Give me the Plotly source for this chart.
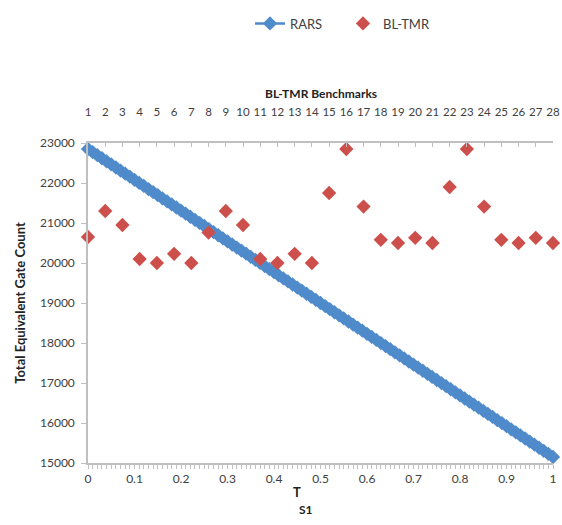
import plotly.graph_objects as go

# RARS series: T_S1 from 0 to 1 in steps of 0.01
ts1 = [round(i / 100, 2) for i in range(101)]
rars = [22850, 22773, 22696, 22619, 22542, 22465, 22388, 22311, 22234, 22157,
        22080, 22003, 21926, 21849, 21772, 21695, 21618, 21541, 21464, 21387,
        21310, 21233, 21156, 21079, 21002, 20925, 20848, 20771, 20694, 20617,
        20540, 20463, 20386, 20309, 20232, 20155, 20078, 20001, 19924, 19847,
        19770, 19693, 19616, 19539, 19462, 19385, 19308, 19231, 19154, 19077,
        19000, 18923, 18846, 18769, 18692, 18615, 18538, 18461, 18384, 18307,
        18230, 18153, 18076, 17999, 17922, 17845, 17768, 17691, 17614, 17537,
        17460, 17383, 17306, 17229, 17152, 17075, 16998, 16921, 16844, 16767,
        16690, 16613, 16536, 16459, 16382, 16305, 16228, 16151, 16074, 15997,
        15920, 15843, 15766, 15689, 15612, 15535, 15458, 15381, 15304, 15227,
        15150]

# BL-TMR benchmarks 1..28
bench = list(range(1, 29))
bltmr = [20650, 21300, 20950, 20100, 20000, 20230, 20000, 20760, 21300, 20950,
         20100, 20000, 20230, 20000, 21750, 22850, 21410, 20580, 20500, 20630,
         20500, 21900, 22850, 21410, 20580, 20500, 20630, 20500]

bottom_ticks = [0, 0.1, 0.2, 0.3, 0.4, 0.5, 0.6, 0.7, 0.8, 0.9, 1]
bottom_labels = ["0", "0.1", "0.2", "0.3", "0.4", "0.5", "0.6", "0.7", "0.8", "0.9", "1"]

BLUE = "#4F8BCB"
RED = "#CD4F4B"
FONT = "Lato"

L, R, T, B = 88, 9, 139, 62
W, H = 562, 525
PW, PH = W - L - R, H - T - B

def px_x(x):
    return (x - L) / PW

def px_y(y):
    return (H - B - y) / PH

fig = go.Figure()
fig.add_trace(go.Scatter(
    x=ts1, y=rars, name="RARS", mode="lines+markers",
    line=dict(color=BLUE, width=2.5),
    marker=dict(symbol="diamond", size=11, color=BLUE),
    cliponaxis=False, xaxis="x", yaxis="y"))
fig.add_trace(go.Scatter(
    x=bench, y=bltmr, name="BL-TMR", mode="markers",
    marker=dict(symbol="diamond", size=11, color=RED),
    cliponaxis=False, xaxis="x2", yaxis="y"))

axis_common = dict(showgrid=False, zeroline=False, showline=True, automargin=False,
                   linecolor="#BFBFBF", linewidth=1.5, tickcolor="#BFBFBF",
                   tickfont=dict(family=FONT, size=12, color="#404040"))

fig.update_layout(
    width=W, height=H,
    margin=dict(l=L, r=R, t=T, b=B),
    paper_bgcolor="white", plot_bgcolor="white",
    font=dict(family=FONT, color="#404040"),
    showlegend=True,
    legend=dict(orientation="h", x=px_x(250), y=px_y(18), xanchor="left", yanchor="middle",
                font=dict(family=FONT, size=13, color="#404040"),
                entrywidth=48, entrywidthmode="pixels", tracegroupgap=0),
    xaxis=dict(range=[0, 1], tickvals=bottom_ticks, ticktext=bottom_labels,
               ticks="outside", ticklen=4,
               minor=dict(dtick=0.01, ticks="outside", ticklen=4, tickcolor="#BFBFBF"),
               **axis_common),
    xaxis2=dict(range=[1, 28], overlaying="x", side="top", anchor="y",
                tickmode="linear", tick0=1, dtick=1, ticks="inside", ticklen=4,
                ticklabelstandoff=21,
                **{**axis_common, "tickfont": dict(family=FONT, size=11.5, color="#404040")}),
    yaxis=dict(range=[15000, 23000], tickmode="linear", tick0=15000, dtick=1000,
               tickformat="d", ticks="outside", ticklen=5, ticklabelstandoff=4,
               title=dict(text="<b>Total Equivalent Gate Count</b>", standoff=11,
                          font=dict(family=FONT, size=13, color="#222")),
               **axis_common),
    annotations=[
        dict(text="<b>BL-TMR Benchmarks</b>", xref="paper", yref="paper",
             x=0.5, y=px_y(89), showarrow=False, xanchor="center", yanchor="middle",
             font=dict(family=FONT, size=12, color="#222")),
        dict(text="<b>T</b>", xref="paper", yref="paper",
             x=px_x(297), y=px_y(492), showarrow=False, xanchor="center", yanchor="middle",
             font=dict(family=FONT, size=13, color="#222")),
        dict(text="<b>S1</b>", xref="paper", yref="paper",
             x=px_x(306), y=px_y(510), showarrow=False, xanchor="center", yanchor="middle",
             font=dict(family=FONT, size=12, color="#222")),
    ],
)

fig.write_html("out.html", config={"displayModeBar": False},
               post_script="document.body.style.margin='0';document.body.style.overflow='hidden';")
